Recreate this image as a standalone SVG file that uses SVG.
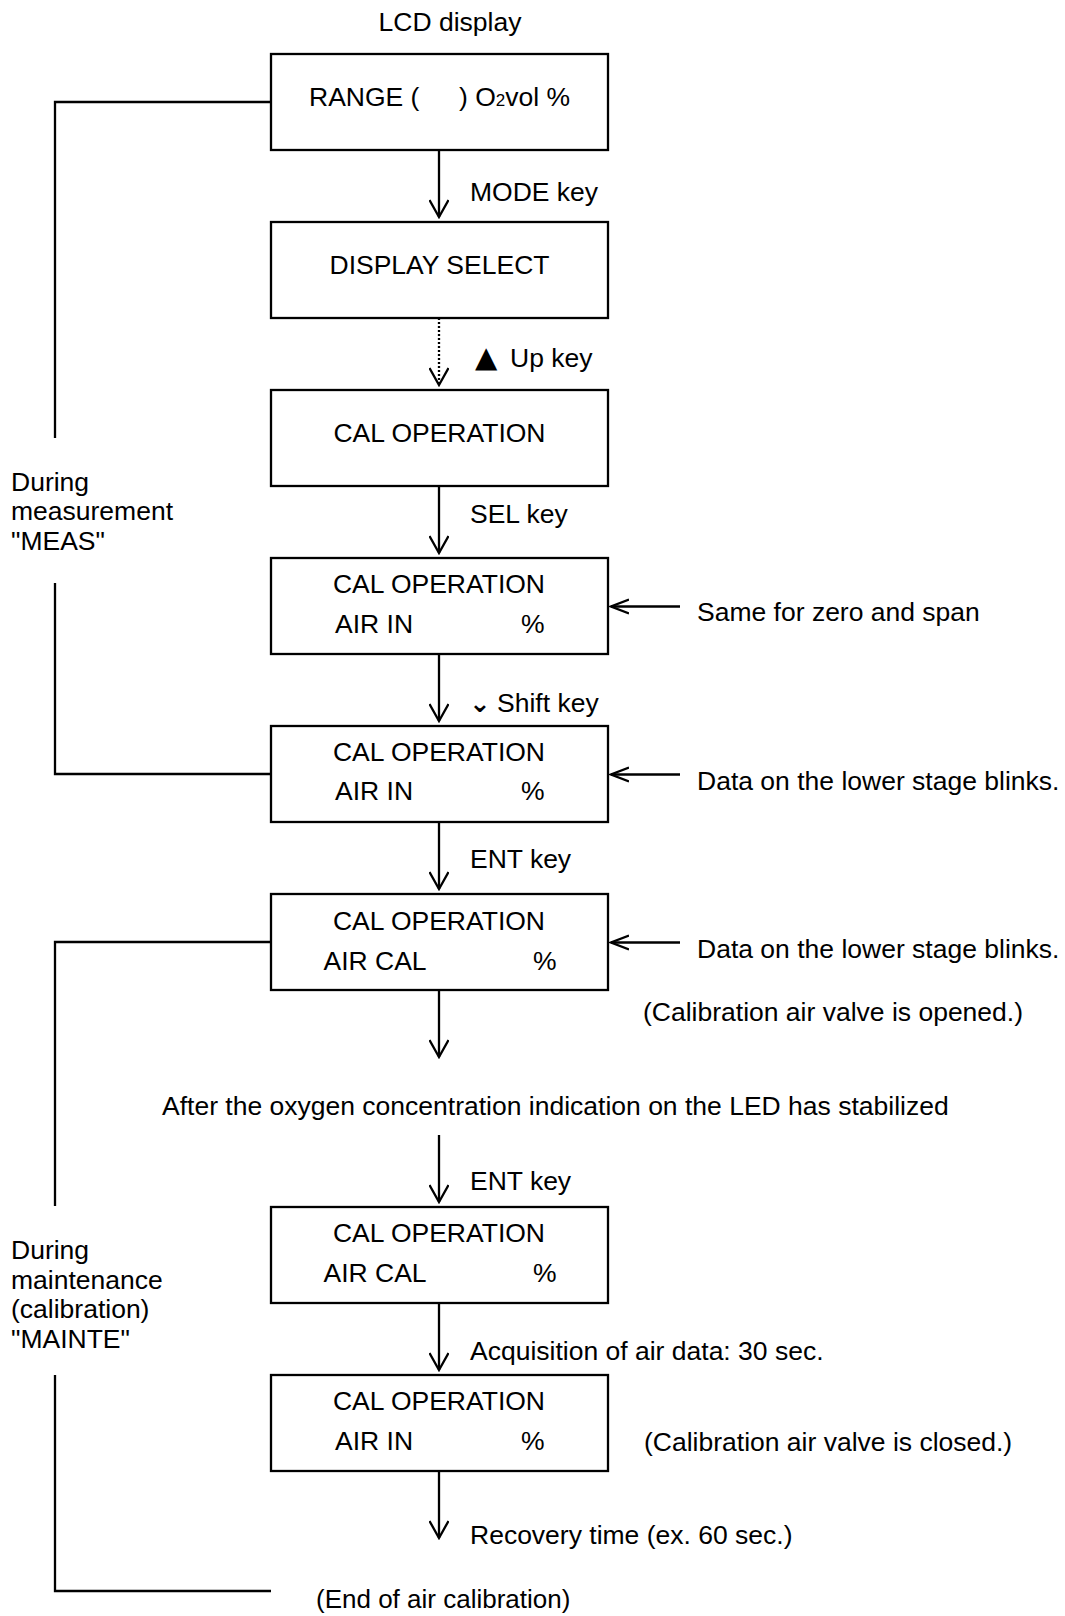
<svg xmlns="http://www.w3.org/2000/svg" width="1065" height="1616" viewBox="0 0 1065 1616">
<defs>
<style>
text{font-family:"Liberation Sans",Arial,sans-serif;font-size:26.5px;fill:#000}
.mid{text-anchor:middle}
.box{fill:#fff;stroke:#000;stroke-width:2.3}
.ln{fill:none;stroke:#000;stroke-width:2.3}
.dot{fill:none;stroke:#000;stroke-width:2.3;stroke-dasharray:2 2}
.sym{font-family:"DejaVu Sans",sans-serif}
</style>
<marker id="ah" viewBox="0 0 20 20" markerWidth="20" markerHeight="20" refX="18" refY="10" orient="auto" markerUnits="userSpaceOnUse">
<path d="M1,0.5 L18,10 L1,19.5" fill="none" stroke="#000" stroke-width="2.3"/>
</marker>
<marker id="sh" viewBox="0 0 20 20" markerWidth="20" markerHeight="20" refX="18" refY="10" orient="auto" markerUnits="userSpaceOnUse">
<path d="M0,3 L18,10 L0,17" fill="none" stroke="#000" stroke-width="2.3"/>
</marker>
</defs>
<rect width="1065" height="1616" fill="#fff"/>

<text x="450" y="31" class="mid">LCD display</text>

<g id="connectors">
<line class="ln" x1="439" y1="150" x2="439" y2="217" marker-end="url(#ah)"/>
<line class="dot" x1="439" y1="318" x2="439" y2="385" marker-end="url(#ah)"/>
<line class="ln" x1="439" y1="486" x2="439" y2="553" marker-end="url(#ah)"/>
<line class="ln" x1="439" y1="654" x2="439" y2="721" marker-end="url(#ah)"/>
<line class="ln" x1="439" y1="822" x2="439" y2="889" marker-end="url(#ah)"/>
<line class="ln" x1="439" y1="990" x2="439" y2="1057" marker-end="url(#ah)"/>
<line class="ln" x1="439" y1="1135" x2="439" y2="1202" marker-end="url(#ah)"/>
<line class="ln" x1="439" y1="1303" x2="439" y2="1370" marker-end="url(#ah)"/>
<line class="ln" x1="439" y1="1471" x2="439" y2="1538" marker-end="url(#ah)"/>
<line class="ln" x1="680" y1="606.5" x2="611" y2="606.5" marker-end="url(#sh)"/>
<line class="ln" x1="680" y1="774.5" x2="611" y2="774.5" marker-end="url(#sh)"/>
<line class="ln" x1="680" y1="942.5" x2="611" y2="942.5" marker-end="url(#sh)"/>
<path class="ln" d="M271,102 H55 V438 M55,583 V774 H271"/>
<path class="ln" d="M271,942 H55 V1206 M55,1375 V1591 H271"/>
</g>

<g id="n1"><rect class="box" x="271" y="54" width="337" height="96"/>
<text x="309" y="106">RANGE (</text><text x="459" y="106">) O<tspan font-size="17">2</tspan>vol %</text></g>
<g id="n2"><rect class="box" x="271" y="222" width="337" height="96"/>
<text x="439.5" y="274" class="mid">DISPLAY SELECT</text></g>
<g id="n3"><rect class="box" x="271" y="390" width="337" height="96"/>
<text x="439.5" y="442" class="mid">CAL OPERATION</text></g>
<g id="n4"><rect class="box" x="271" y="558" width="337" height="96"/>
<text x="439" y="592.5" class="mid">CAL OPERATION</text><text x="335" y="632.5">AIR IN</text><text x="521" y="632.5">%</text></g>
<g id="n5"><rect class="box" x="271" y="726" width="337" height="96"/>
<text x="439" y="760.5" class="mid">CAL OPERATION</text><text x="335" y="800">AIR IN</text><text x="521" y="800">%</text></g>
<g id="n6"><rect class="box" x="271" y="894" width="337" height="96"/>
<text x="439" y="929.5" class="mid">CAL OPERATION</text><text x="323.5" y="970">AIR CAL</text><text x="533" y="970">%</text></g>
<g id="n7"><rect class="box" x="271" y="1207" width="337" height="96"/>
<text x="439" y="1242" class="mid">CAL OPERATION</text><text x="323.5" y="1282">AIR CAL</text><text x="533" y="1282">%</text></g>
<g id="n8"><rect class="box" x="271" y="1375" width="337" height="96"/>
<text x="439" y="1409.5" class="mid">CAL OPERATION</text><text x="335" y="1450">AIR IN</text><text x="521" y="1450">%</text></g>

<g id="labels">
<text x="470" y="201">MODE key</text>
<text x="475" y="367"><tspan class="sym" font-size="29">▲</tspan><tspan x="510">Up key</tspan></text>
<text x="470" y="523">SEL key</text>
<text x="469" y="712"><tspan class="sym" font-size="26" font-weight="bold">⌄</tspan><tspan x="497">Shift key</tspan></text>
<text x="470" y="868">ENT key</text>
<text x="470" y="1190">ENT key</text>
<text x="470" y="1360">Acquisition of air data: 30 sec.</text>
<text x="470" y="1543.5">Recovery time (ex. 60 sec.)</text>
<text x="697" y="621">Same for zero and span</text>
<text x="697" y="790">Data on the lower stage blinks.</text>
<text x="697" y="958">Data on the lower stage blinks.</text>
<text x="643" y="1021">(Calibration air valve is opened.)</text>
<text x="162" y="1114.5">After the oxygen concentration indication on the LED has stabilized</text>
<text x="644" y="1451">(Calibration air valve is closed.)</text>
<text x="316" y="1608" style="font-size:26px">(End of air calibration)</text>
<text x="11" y="491">During</text>
<text x="11" y="520">measurement</text>
<text x="11" y="550">"MEAS"</text>
<text x="11" y="1259">During</text>
<text x="11" y="1288.5">maintenance</text>
<text x="11" y="1318">(calibration)</text>
<text x="11" y="1348">"MAINTE"</text>
</g>
</svg>
